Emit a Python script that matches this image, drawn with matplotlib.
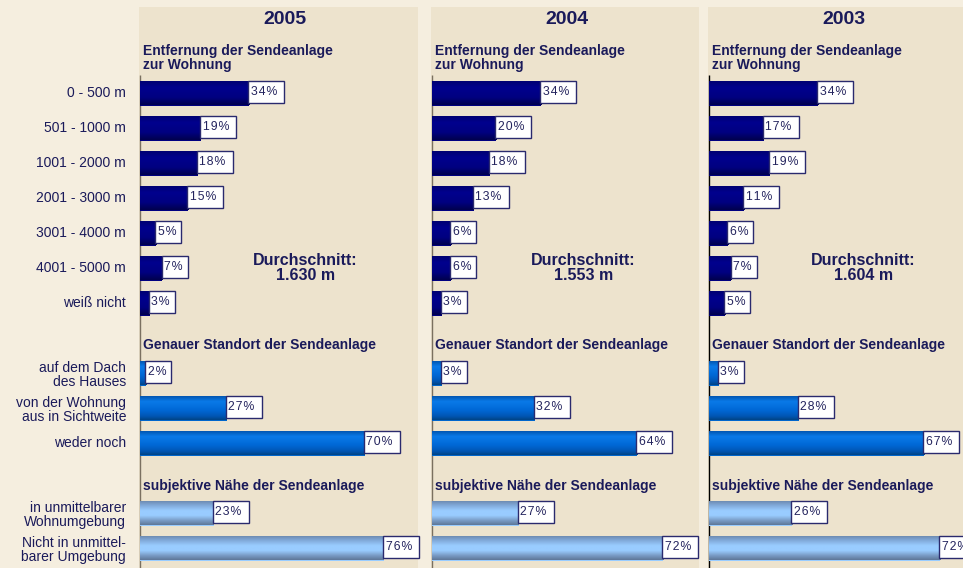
import numpy as np
import matplotlib
matplotlib.use("Agg")
import matplotlib.pyplot as plt
from matplotlib.colors import LinearSegmentedColormap
from matplotlib.patches import Rectangle

plt.rcParams['font.family'] = ['Liberation Sans', 'DejaVu Sans']

# ---- data -------------------------------------------------------------
years = ["2005", "2004", "2003"]

distance_labels = ["0 - 500 m", "501 - 1000 m", "1001 - 2000 m", "2001 - 3000 m",
                   "3001 - 4000 m", "4001 - 5000 m", "weiß nicht"]
location_labels = ["auf dem Dach\ndes Hauses", "von der Wohnung\naus in Sichtweite",
                   "weder noch"]
nearness_labels = ["in unmittelbarer\nWohnumgebung", "Nicht in unmittel-\nbarer Umgebung"]

distance_2005 = [34, 19, 18, 15, 5, 7, 3]
distance_2004 = [34, 20, 18, 13, 6, 6, 3]
distance_2003 = [34, 17, 19, 11, 6, 7, 5]

location_2005 = [2, 27, 70]
location_2004 = [3, 32, 64]
location_2003 = [3, 28, 67]

nearness_2005 = [23, 76]
nearness_2004 = [27, 72]
nearness_2003 = [26, 72]

average_labels = ["Durchschnitt:\n1.630 m", "Durchschnitt:\n1.553 m", "Durchschnitt:\n1.604 m"]

header_distance = "Entfernung der Sendeanlage\nzur Wohnung"
header_location = "Genauer Standort der Sendeanlage"
header_nearness = "subjektive Nähe der Sendeanlage"

# ---- layout -----------------------------------------------------------
W, H = 963, 568
SCALE = 3.21            # pixels per percent
ROW = 35.0              # pixels per row
ROW0 = 93.0             # pixel y of first row centre
TOP, BOTTOM = 7, 568

distance_rows = np.arange(0, 7)
location_rows = np.arange(8, 11)
nearness_rows = np.arange(12, 14)

# (panel left px, axis px, panel right px, title x px, average-label x px, axis colour)
panels = [(139, 140, 418, 284.5, 305.5, "#7a7060"),
          (431, 432, 699, 567.0, 583.5, "#7a7060"),
          (708, 709, 963, 844.0, 863.5, "#000000")]

BG = "#F5EEDF"
PANEL = "#EDE3CD"
TEXT = "#1a1a5a"

cmap_navy = LinearSegmentedColormap.from_list(
    "navy", [(0, "#00006e"), (0.3, "#00008e"), (0.7, "#000080"), (1, "#00004e")])
cmap_blue = LinearSegmentedColormap.from_list(
    "blue", [(0, "#0050a8"), (0.25, "#0a7ae8"), (0.6, "#0068d6"), (0.85, "#0056b4"), (1, "#004486")])
cmap_light = LinearSegmentedColormap.from_list(
    "light", [(0, "#6a86aa"), (0.2, "#80a8d8"), (0.42, "#99ccff"), (0.62, "#99ccff"),
              (0.82, "#7a9cc6"), (1, "#5f7899")])
grad = np.linspace(0, 1, 64).reshape(-1, 1)

fig = plt.figure(figsize=(W / 100, H / 100), dpi=100)
fig.patch.set_facecolor(BG)

BAR_H = 25 / ROW
BOX_H = 22 / ROW
HAIR = "\u200a"


def draw_group(ax, rows, values, cmap, base):
    bars = ax.barh(rows, values, height=BAR_H, color=base, zorder=3, linewidth=0)
    for bar, v, r in zip(bars, values, rows):
        x0, y0 = bar.get_x(), bar.get_y()
        w, h = bar.get_width(), bar.get_height()
        im = ax.imshow(grad, cmap=cmap, aspect="auto", origin="upper",
                       extent=(x0, x0 + w, y0 + h, y0), zorder=4, interpolation="bilinear")
        im.set_clip_path(bar)
        txt = f"{v}%"
        bw = (26 if len(txt) == 2 else 36) / SCALE
        bx = v - 0.3
        ax.add_patch(Rectangle((bx, r - 0.03 - BOX_H / 2), bw, BOX_H, facecolor="white",
                               edgecolor="#2a2a6e", linewidth=1.0, zorder=5, clip_on=False))
        ax.text(bx + 0.8, r - 0.03, HAIR.join(txt), fontsize=8.8, color="#24245e", ha="left",
                va="center", zorder=6, clip_on=False)


data = [(distance_2005, location_2005, nearness_2005),
        (distance_2004, location_2004, nearness_2004),
        (distance_2003, location_2003, nearness_2003)]

axes = []
for i, ((L, A, R, title_x, avg_x, axis_col), year, (dist, loc, near)) in enumerate(
        zip(panels, years, data)):
    ax = fig.add_axes([L / W, 0, (R - L) / W, (BOTTOM - TOP) / H])
    ax.set_facecolor(PANEL)
    ax.set_xlim((L - A) / SCALE, (R - A) / SCALE)
    ax.set_ylim((BOTTOM - ROW0) / ROW, (TOP - ROW0) / ROW)
    for s in ax.spines.values():
        s.set_visible(False)
    ax.set_xticks([])
    ax.set_yticks([])

    ax.plot([0, 0], [(75 - ROW0) / ROW, (BOTTOM - ROW0) / ROW], color=axis_col,
            linewidth=1.0, zorder=2, solid_capstyle="butt")

    draw_group(ax, distance_rows, dist, cmap_navy, "#000080")
    draw_group(ax, location_rows, loc, cmap_blue, "#0066cc")
    draw_group(ax, nearness_rows, near, cmap_light, "#99ccff")

    # titles and headers
    ax.text((title_x - A) / SCALE, (19 - ROW0) / ROW, year, fontsize=14, fontweight="bold",
            color=TEXT, ha="center", va="center")
    hx = 3.3 / SCALE
    ax.text(hx, (57.6 - ROW0) / ROW, header_distance, fontsize=10, fontweight="bold",
            color=TEXT, ha="left", va="center", linespacing=1.0)
    ax.text(hx, (345.5 - ROW0) / ROW, header_location, fontsize=10, fontweight="bold",
            color=TEXT, ha="left", va="center")
    ax.text(hx, (486.5 - ROW0) / ROW, header_nearness, fontsize=10, fontweight="bold",
            color=TEXT, ha="left", va="center")
    ax.text((avg_x - A) / SCALE, (268 - ROW0) / ROW, average_labels[i], fontsize=11.5,
            fontweight="bold", color=TEXT, ha="center", va="center", linespacing=1.0)
    axes.append(ax)

# category labels to the left of the first panel
ax1 = axes[0]
lx = (126 - panels[0][1]) / SCALE
for rows, labels in ((distance_rows, distance_labels), (location_rows, location_labels),
                     (nearness_rows, nearness_labels)):
    for r, lab in zip(rows, labels):
        off = 0.06 if "\n" in lab else 0.0
        ax1.text(lx, r + off, lab, fontsize=10, color=TEXT, ha="right", va="center",
                 linespacing=1.0, clip_on=False)

fig.savefig("out.png", dpi=100, facecolor=BG)
